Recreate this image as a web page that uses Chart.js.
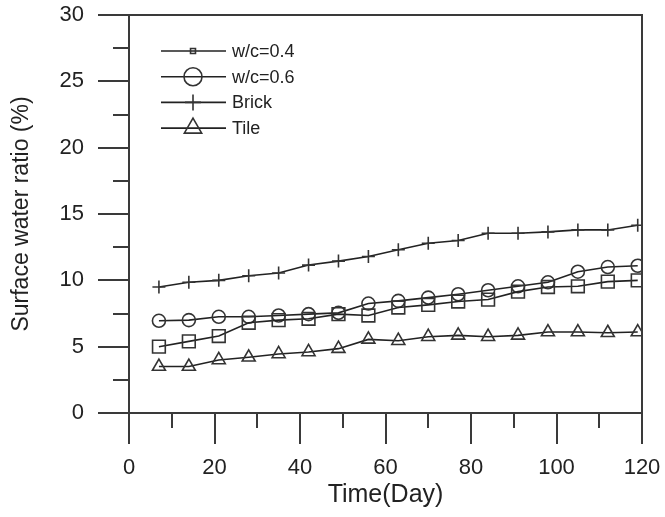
<!DOCTYPE html>
<html>
<head>
<meta charset="utf-8">
<script src="https://cdn.jsdelivr.net/npm/chart.js@4.4.1/dist/chart.umd.min.js"></script>
<style>
  html, body { margin: 0; padding: 0; background: #fff; }
</style>
</head>
<body>
<canvas id="waterChart" width="665" height="517"></canvas>
<script>
// curing time in days and surface water ratio (%) per material
const days  = [7, 14, 21, 28, 35, 42, 49, 56, 63, 70, 77, 84, 91, 98, 105, 112, 119];
const wc04  = [5.0, 5.4, 5.8, 6.8, 7.0, 7.1, 7.45, 7.35, 7.95, 8.15, 8.4, 8.55, 9.15, 9.5, 9.55, 9.9, 10.0];
const wc06  = [6.95, 7.0, 7.25, 7.25, 7.35, 7.45, 7.55, 8.25, 8.45, 8.7, 8.95, 9.25, 9.55, 9.85, 10.65, 11.0, 11.1];
const brick = [9.5, 9.85, 10.0, 10.35, 10.55, 11.15, 11.45, 11.8, 12.3, 12.8, 13.0, 13.55, 13.55, 13.65, 13.8, 13.8, 14.15];
const tile  = [3.5, 3.5, 4.0, 4.2, 4.45, 4.6, 4.85, 5.55, 5.45, 5.75, 5.85, 5.75, 5.85, 6.1, 6.1, 6.05, 6.1];

const xTicks = [0, 20, 40, 60, 80, 100, 120];
const yTicks = [0, 5, 10, 15, 20, 25, 30];
const xMinorStep = 10;
const yMinorStep = 2.5;

const FONT = "'Liberation Sans', Arial, Helvetica, sans-serif";
const INK = '#222';

function series(values) {
  return values.map((v, i) => ({ x: days[i], y: v }));
}

function makeSet(label, values, style, radius, legendRadius) {
  return {
    label: label,
    data: series(values),
    borderColor: INK,
    borderWidth: 1.6,
    pointStyle: style,
    pointRadius: radius,
    pointHoverRadius: radius,
    pointBorderColor: '#333',
    pointBackgroundColor: 'rgba(0,0,0,0)',
    pointBorderWidth: 1.6,
    legendRadius: legendRadius,
    tension: 0,
    fill: false
  };
}

// box around the plot plus outward major/minor tick marks
const frameTicks = {
  id: 'frameTicks',
  afterDraw(chart) {
    const ctx = chart.ctx;
    const a = chart.chartArea;
    const xs = chart.scales.x, ys = chart.scales.y;
    ctx.save();
    ctx.strokeStyle = '#3a3a3a';
    ctx.lineWidth = 2;
    ctx.strokeRect(a.left, a.top, a.right - a.left, a.bottom - a.top);
    ctx.beginPath();
    for (let v = xs.min; v <= xs.max; v += xMinorStep) {
      const px = Math.round(xs.getPixelForValue(v));
      const len = xTicks.includes(v) ? 31 : 15;
      ctx.moveTo(px, a.bottom);
      ctx.lineTo(px, a.bottom + len);
    }
    for (let v = ys.min; v <= ys.max; v += yMinorStep) {
      const py = Math.round(ys.getPixelForValue(v));
      const len = yTicks.includes(v) ? 31 : 16;
      ctx.moveTo(a.left, py);
      ctx.lineTo(a.left - len, py);
    }
    ctx.stroke();
    ctx.restore();
  }
};

function drawMarker(ctx, style, x, y, r) {
  ctx.beginPath();
  if (style === 'rect') {
    const s = r * Math.SQRT1_2;
    ctx.rect(x - s, y - s, 2 * s, 2 * s);
  } else if (style === 'circle') {
    ctx.arc(x, y, r, 0, Math.PI * 2);
  } else if (style === 'cross') {
    ctx.moveTo(x, y - r); ctx.lineTo(x, y + r);
    ctx.moveTo(x - r, y); ctx.lineTo(x + r, y);
  } else if (style === 'triangle') {
    ctx.moveTo(x, y - r);
    ctx.lineTo(x + r * Math.sin(Math.PI / 3), y + r / 2);
    ctx.lineTo(x - r * Math.sin(Math.PI / 3), y + r / 2);
    ctx.closePath();
  }
  ctx.stroke();
}

// legend drawn inside the upper-left corner of the plot
const insideLegend = {
  id: 'insideLegend',
  afterDraw(chart) {
    const ctx = chart.ctx;
    const x0 = 161, x1 = 226, mx = 193, tx = 232;
    let y = 51;
    ctx.save();
    ctx.font = '18px ' + FONT;
    ctx.textBaseline = 'middle';
    ctx.fillStyle = INK;
    chart.data.datasets.forEach(ds => {
      ctx.strokeStyle = INK;
      ctx.lineWidth = 1.6;
      ctx.beginPath();
      ctx.moveTo(x0, y); ctx.lineTo(x1, y);
      ctx.stroke();
      ctx.strokeStyle = '#333';
      drawMarker(ctx, ds.pointStyle, mx, y, ds.legendRadius);
      ctx.fillText(ds.label, tx, y + 1);
      y += 25.7;
    });
    ctx.restore();
  }
};

// fixed axis boxes, no extra room reserved for label overhang
function fitX(s) {
  s.height = 104;
  s.paddingLeft = 0; s.paddingRight = 0; s.paddingTop = 0; s.paddingBottom = 0;
}
function fitY(s) {
  s.width = 129;
  s.paddingLeft = 0; s.paddingRight = 0; s.paddingTop = 0; s.paddingBottom = 0;
}

new Chart(document.getElementById('waterChart').getContext('2d'), {
  type: 'line',
  data: {
    datasets: [
      makeSet('w/c=0.4', wc04, 'rect', 9, 3.5),
      makeSet('w/c=0.6', wc06, 'circle', 6.5, 9),
      makeSet('Brick', brick, 'cross', 6.5, 8),
      makeSet('Tile', tile, 'triangle', 7.5, 10)
    ]
  },
  options: {
    responsive: false,
    animation: false,
    devicePixelRatio: 1,
    layout: { padding: { top: 15, right: 23, left: 0, bottom: 0 } },
    plugins: {
      legend: { display: false },
      tooltip: { enabled: false }
    },
    scales: {
      x: {
        type: 'linear',
        min: 0,
        max: 120,
        afterBuildTicks: s => { s.ticks = xTicks.map(v => ({ value: v })); },
        afterFit: fitX,
        grid: { display: false, drawTicks: false },
        border: { display: false },
        ticks: { padding: 42, color: INK, font: { family: FONT, size: 22 }, maxRotation: 0 },
        title: {
          display: true,
          text: 'Time(Day)',
          color: INK,
          font: { family: FONT, size: 25 },
          padding: { top: 0, bottom: 7 }
        }
      },
      y: {
        min: 0,
        max: 30,
        afterBuildTicks: s => { s.ticks = yTicks.map(v => ({ value: v })); },
        afterFit: fitY,
        grid: { display: false, drawTicks: false },
        border: { display: false },
        ticks: { padding: 45, color: INK, font: { family: FONT, size: 22 } },
        title: {
          display: true,
          text: 'Surface water ratio (%)',
          color: INK,
          font: { family: FONT, size: 23 },
          padding: { top: 8, bottom: 0 }
        }
      }
    }
  },
  plugins: [frameTicks, insideLegend]
});
</script>
</body>
</html>
